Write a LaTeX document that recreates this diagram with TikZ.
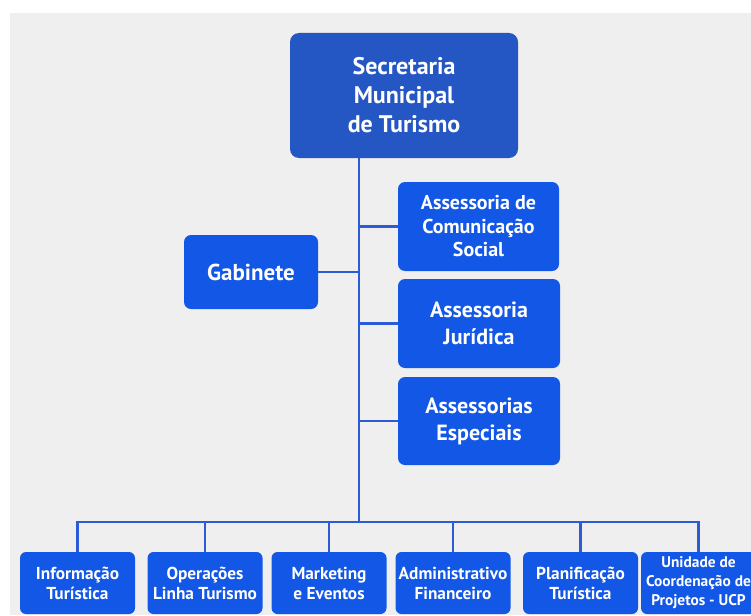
\documentclass[tikz,border=0pt]{standalone}
\usepackage{fontspec}
\setmainfont{PT Sans}
\definecolor{boxblue}{HTML}{1257E6}
\definecolor{topblue}{HTML}{2456C4}
\definecolor{lineblue}{HTML}{2B5BD7}
\definecolor{backgrey}{HTML}{EFEFEF}
\tikzset{
    unit/.style={draw=none, fill=boxblue, rounded corners=7pt, text=white,
        align=center, inner sep=0pt, font=\bfseries},
    link/.style={draw=lineblue, line width=2.6pt},
}
\begin{document}
\begin{tikzpicture}[x=1pt, y=-1pt]
        \useasboundingbox (0,0) rectangle (751,615);
        \clip (0,0) rectangle (751,615);
        \fill[white] (0,0) rectangle (751,615);
        \fill[backgrey] (10,13) rectangle (751,615);

        \node[unit, fill=topblue, rounded corners=9pt, minimum width=228pt, minimum height=125pt,
            font=\bfseries\fontsize{24}{29}\selectfont] (sec) at (404,95.5)
            {Secretaria\\Municipal\\de Turismo};
        \node[unit, minimum width=161pt, minimum height=89pt,
            font=\bfseries\fontsize{20}{23.5}\selectfont] (com) at (478.5,226.5)
            {Assessoria de\\Comunicação\\Social};
        \node[unit, minimum width=134pt, minimum height=74pt,
            font=\bfseries\fontsize{23}{27}\selectfont] (gab) at (251,272) {Gabinete};
        \node[unit, minimum width=162pt, minimum height=89pt,
            font=\bfseries\fontsize{22}{27}\selectfont] (jur) at (479,323.5)
            {Assessoria\\Jurídica};
        \node[unit, minimum width=162pt, minimum height=88pt,
            font=\bfseries\fontsize{22}{27}\selectfont] (esp) at (479,421)
            {Assessorias\\Especiais};

        \coordinate (bus) at (359,522);

        \foreach \x/\name/\txt in {77.5/inf/{Informação\\Turística},
                                   205/ope/{Operações\\Linha Turismo},
                                   329/mkt/{Marketing\\e Eventos},
                                   453/adm/{Administrativo\\Financeiro},
                                   580.5/pla/{Planificação\\Turística}}
        {
            \node[unit, rounded corners=6pt, minimum width=115pt, minimum height=62pt,
                font=\bfseries\fontsize{17.3}{20}\selectfont] (\name) at (\x,583) {\txt};
        }
        \node[unit, rounded corners=6pt, minimum width=115pt, minimum height=62pt,
            font=\bfseries\fontsize{15.4}{19}\selectfont] (ucp) at (698.5,583)
            {Unidade de\\Coordenação de\\Projetos - UCP};

        \draw[link] (sec.south -| bus) -- (bus);
        \draw[link] (com.west) -- (com.west -| bus);
        \draw[link] (gab.east) -- (gab.east -| bus);
        \draw[link] (jur.west) -- (jur.west -| bus);
        \draw[link] (esp.west) -- (esp.west -| bus);

        \foreach \name in {inf,ope,mkt,adm,pla,ucp}
        {
            \draw[link] (\name.north) |- (bus);
        }
    \end{tikzpicture}
\end{document}
